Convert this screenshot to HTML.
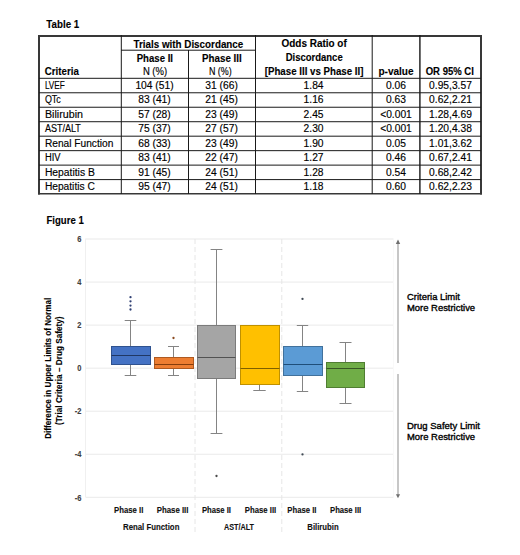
<!DOCTYPE html>
<html><head><meta charset="utf-8"><style>
html,body{margin:0;padding:0;background:#fff;}
body{width:520px;height:555px;overflow:hidden;}
svg{display:block;font-family:"Liberation Sans",sans-serif;}
</style></head><body>
<svg width="520" height="555" viewBox="0 0 520 555">
<rect width="520" height="555" fill="#fff"/>
<rect x="38.00" y="35.00" width="444.00" height="2.00" fill="#383838" />
<rect x="38.00" y="35.00" width="2.00" height="159.50" fill="#383838" />
<rect x="480.00" y="35.00" width="2.00" height="159.50" fill="#383838" />
<rect x="38.00" y="193.00" width="444.00" height="1.50" fill="#383838" />
<rect x="120.80" y="35.00" width="1.00" height="159.00" fill="#1a1a1a" />
<rect x="188.00" y="50.00" width="1.00" height="144.00" fill="#1a1a1a" />
<rect x="255.00" y="35.00" width="1.00" height="159.00" fill="#1a1a1a" />
<rect x="371.70" y="35.00" width="1.00" height="159.00" fill="#1a1a1a" />
<rect x="419.20" y="35.00" width="1.40" height="159.00" fill="#1a1a1a" />
<rect x="121.00" y="49.70" width="134.50" height="1.00" fill="#1a1a1a" />
<rect x="39.00" y="77.80" width="442.00" height="1.00" fill="#1a1a1a" />
<rect x="39.00" y="92.27" width="442.00" height="1.00" fill="#1a1a1a" />
<rect x="39.00" y="106.74" width="442.00" height="1.00" fill="#1a1a1a" />
<rect x="39.00" y="121.21" width="442.00" height="1.00" fill="#1a1a1a" />
<rect x="39.00" y="135.68" width="442.00" height="1.00" fill="#1a1a1a" />
<rect x="39.00" y="150.15" width="442.00" height="1.00" fill="#1a1a1a" />
<rect x="39.00" y="164.62" width="442.00" height="1.00" fill="#1a1a1a" />
<rect x="39.00" y="179.09" width="442.00" height="1.00" fill="#1a1a1a" />
<text x="46.30" y="28.30" font-size="10.5" font-weight="700" fill="#000" textLength="32.90" lengthAdjust="spacingAndGlyphs" stroke="#000" stroke-width="0.12" >Table 1</text>
<text x="133.50" y="47.50" font-size="10" font-weight="700" fill="#000" textLength="109.80" lengthAdjust="spacingAndGlyphs" stroke="#000" stroke-width="0.12" >Trials with Discordance</text>
<text x="136.70" y="61.50" font-size="10" font-weight="700" fill="#000" textLength="36.30" lengthAdjust="spacingAndGlyphs" stroke="#000" stroke-width="0.12" >Phase II</text>
<text x="202.10" y="61.50" font-size="10" font-weight="700" fill="#000" textLength="39.60" lengthAdjust="spacingAndGlyphs" stroke="#000" stroke-width="0.12" >Phase III</text>
<text x="142.90" y="74.80" font-size="10" font-weight="400" fill="#000" textLength="24.20" lengthAdjust="spacingAndGlyphs" stroke="#000" stroke-width="0.15" >N (%)</text>
<text x="208.90" y="74.80" font-size="10" font-weight="400" fill="#000" textLength="22.80" lengthAdjust="spacingAndGlyphs" stroke="#000" stroke-width="0.15" >N (%)</text>
<text x="281.50" y="47.40" font-size="10" font-weight="700" fill="#000" textLength="65.28" lengthAdjust="spacingAndGlyphs" stroke="#000" stroke-width="0.12" >Odds Ratio of</text>
<text x="285.70" y="61.20" font-size="10" font-weight="700" fill="#000" textLength="57.00" lengthAdjust="spacingAndGlyphs" stroke="#000" stroke-width="0.12" >Discordance</text>
<text x="264.70" y="74.60" font-size="10" font-weight="700" fill="#000" textLength="98.80" lengthAdjust="spacingAndGlyphs" stroke="#000" stroke-width="0.12" >[Phase III vs Phase II]</text>
<text x="378.40" y="74.80" font-size="10" font-weight="700" fill="#000" textLength="35.20" lengthAdjust="spacingAndGlyphs" stroke="#000" stroke-width="0.12" >p-value</text>
<text x="425.70" y="74.80" font-size="10" font-weight="700" fill="#000" textLength="48.20" lengthAdjust="spacingAndGlyphs" stroke="#000" stroke-width="0.12" >OR 95% CI</text>
<text x="44.80" y="74.80" font-size="10" font-weight="700" fill="#000" textLength="34.04" lengthAdjust="spacingAndGlyphs" stroke="#000" stroke-width="0.12" >Criteria</text>
<text x="44.90" y="88.90" font-size="10.0" font-weight="400" fill="#000" textLength="19.90" lengthAdjust="spacingAndGlyphs" stroke="#000" stroke-width="0.15" >LVEF</text>
<text x="135.41" y="88.90" font-size="10.0" font-weight="400" fill="#000" textLength="38.18" lengthAdjust="spacingAndGlyphs" stroke="#000" stroke-width="0.15" >104 (51)</text>
<text x="205.36" y="88.90" font-size="10.0" font-weight="400" fill="#000" textLength="32.48" lengthAdjust="spacingAndGlyphs" stroke="#000" stroke-width="0.15" >31 (66)</text>
<text x="303.63" y="88.90" font-size="10.0" font-weight="400" fill="#000" textLength="19.95" lengthAdjust="spacingAndGlyphs" stroke="#000" stroke-width="0.15" >1.84</text>
<text x="386.03" y="88.90" font-size="10.0" font-weight="400" fill="#000" textLength="19.95" lengthAdjust="spacingAndGlyphs" stroke="#000" stroke-width="0.15" >0.06</text>
<text x="429.13" y="88.90" font-size="10.0" font-weight="400" fill="#000" textLength="42.75" lengthAdjust="spacingAndGlyphs" stroke="#000" stroke-width="0.15" >0.95,3.57</text>
<text x="44.90" y="103.40" font-size="10.0" font-weight="400" fill="#000" textLength="15.90" lengthAdjust="spacingAndGlyphs" stroke="#000" stroke-width="0.15" >QTc</text>
<text x="138.26" y="103.40" font-size="10.0" font-weight="400" fill="#000" textLength="32.48" lengthAdjust="spacingAndGlyphs" stroke="#000" stroke-width="0.15" >83 (41)</text>
<text x="205.36" y="103.40" font-size="10.0" font-weight="400" fill="#000" textLength="32.48" lengthAdjust="spacingAndGlyphs" stroke="#000" stroke-width="0.15" >21 (45)</text>
<text x="303.63" y="103.40" font-size="10.0" font-weight="400" fill="#000" textLength="19.95" lengthAdjust="spacingAndGlyphs" stroke="#000" stroke-width="0.15" >1.16</text>
<text x="386.03" y="103.40" font-size="10.0" font-weight="400" fill="#000" textLength="19.95" lengthAdjust="spacingAndGlyphs" stroke="#000" stroke-width="0.15" >0.63</text>
<text x="429.13" y="103.40" font-size="10.0" font-weight="400" fill="#000" textLength="42.75" lengthAdjust="spacingAndGlyphs" stroke="#000" stroke-width="0.15" >0.62,2.21</text>
<text x="44.90" y="117.90" font-size="10.0" font-weight="400" fill="#000" textLength="38.10" lengthAdjust="spacingAndGlyphs" stroke="#000" stroke-width="0.15" >Bilirubin</text>
<text x="138.26" y="117.90" font-size="10.0" font-weight="400" fill="#000" textLength="32.48" lengthAdjust="spacingAndGlyphs" stroke="#000" stroke-width="0.15" >57 (28)</text>
<text x="205.36" y="117.90" font-size="10.0" font-weight="400" fill="#000" textLength="32.48" lengthAdjust="spacingAndGlyphs" stroke="#000" stroke-width="0.15" >23 (49)</text>
<text x="303.63" y="117.90" font-size="10.0" font-weight="400" fill="#000" textLength="19.95" lengthAdjust="spacingAndGlyphs" stroke="#000" stroke-width="0.15" >2.45</text>
<text x="380.18" y="117.90" font-size="10.0" font-weight="400" fill="#000" textLength="31.64" lengthAdjust="spacingAndGlyphs" stroke="#000" stroke-width="0.15" >&lt;0.001</text>
<text x="429.13" y="117.90" font-size="10.0" font-weight="400" fill="#000" textLength="42.75" lengthAdjust="spacingAndGlyphs" stroke="#000" stroke-width="0.15" >1.28,4.69</text>
<text x="44.90" y="132.40" font-size="10.0" font-weight="400" fill="#000" textLength="36.00" lengthAdjust="spacingAndGlyphs" stroke="#000" stroke-width="0.15" >AST/ALT</text>
<text x="138.26" y="132.40" font-size="10.0" font-weight="400" fill="#000" textLength="32.48" lengthAdjust="spacingAndGlyphs" stroke="#000" stroke-width="0.15" >75 (37)</text>
<text x="205.36" y="132.40" font-size="10.0" font-weight="400" fill="#000" textLength="32.48" lengthAdjust="spacingAndGlyphs" stroke="#000" stroke-width="0.15" >27 (57)</text>
<text x="303.63" y="132.40" font-size="10.0" font-weight="400" fill="#000" textLength="19.95" lengthAdjust="spacingAndGlyphs" stroke="#000" stroke-width="0.15" >2.30</text>
<text x="380.18" y="132.40" font-size="10.0" font-weight="400" fill="#000" textLength="31.64" lengthAdjust="spacingAndGlyphs" stroke="#000" stroke-width="0.15" >&lt;0.001</text>
<text x="429.13" y="132.40" font-size="10.0" font-weight="400" fill="#000" textLength="42.75" lengthAdjust="spacingAndGlyphs" stroke="#000" stroke-width="0.15" >1.20,4.38</text>
<text x="44.90" y="146.90" font-size="10.0" font-weight="400" fill="#000" textLength="68.40" lengthAdjust="spacingAndGlyphs" stroke="#000" stroke-width="0.15" >Renal Function</text>
<text x="138.26" y="146.90" font-size="10.0" font-weight="400" fill="#000" textLength="32.48" lengthAdjust="spacingAndGlyphs" stroke="#000" stroke-width="0.15" >68 (33)</text>
<text x="205.36" y="146.90" font-size="10.0" font-weight="400" fill="#000" textLength="32.48" lengthAdjust="spacingAndGlyphs" stroke="#000" stroke-width="0.15" >23 (49)</text>
<text x="303.63" y="146.90" font-size="10.0" font-weight="400" fill="#000" textLength="19.95" lengthAdjust="spacingAndGlyphs" stroke="#000" stroke-width="0.15" >1.90</text>
<text x="386.03" y="146.90" font-size="10.0" font-weight="400" fill="#000" textLength="19.95" lengthAdjust="spacingAndGlyphs" stroke="#000" stroke-width="0.15" >0.05</text>
<text x="429.13" y="146.90" font-size="10.0" font-weight="400" fill="#000" textLength="42.75" lengthAdjust="spacingAndGlyphs" stroke="#000" stroke-width="0.15" >1.01,3.62</text>
<text x="44.90" y="161.40" font-size="10.0" font-weight="400" fill="#000" textLength="15.60" lengthAdjust="spacingAndGlyphs" stroke="#000" stroke-width="0.15" >HIV</text>
<text x="138.26" y="161.40" font-size="10.0" font-weight="400" fill="#000" textLength="32.48" lengthAdjust="spacingAndGlyphs" stroke="#000" stroke-width="0.15" >83 (41)</text>
<text x="205.36" y="161.40" font-size="10.0" font-weight="400" fill="#000" textLength="32.48" lengthAdjust="spacingAndGlyphs" stroke="#000" stroke-width="0.15" >22 (47)</text>
<text x="303.63" y="161.40" font-size="10.0" font-weight="400" fill="#000" textLength="19.95" lengthAdjust="spacingAndGlyphs" stroke="#000" stroke-width="0.15" >1.27</text>
<text x="386.03" y="161.40" font-size="10.0" font-weight="400" fill="#000" textLength="19.95" lengthAdjust="spacingAndGlyphs" stroke="#000" stroke-width="0.15" >0.46</text>
<text x="429.13" y="161.40" font-size="10.0" font-weight="400" fill="#000" textLength="42.75" lengthAdjust="spacingAndGlyphs" stroke="#000" stroke-width="0.15" >0.67,2.41</text>
<text x="44.90" y="175.90" font-size="10.0" font-weight="400" fill="#000" textLength="49.90" lengthAdjust="spacingAndGlyphs" stroke="#000" stroke-width="0.15" >Hepatitis B</text>
<text x="138.26" y="175.90" font-size="10.0" font-weight="400" fill="#000" textLength="32.48" lengthAdjust="spacingAndGlyphs" stroke="#000" stroke-width="0.15" >91 (45)</text>
<text x="205.36" y="175.90" font-size="10.0" font-weight="400" fill="#000" textLength="32.48" lengthAdjust="spacingAndGlyphs" stroke="#000" stroke-width="0.15" >24 (51)</text>
<text x="303.63" y="175.90" font-size="10.0" font-weight="400" fill="#000" textLength="19.95" lengthAdjust="spacingAndGlyphs" stroke="#000" stroke-width="0.15" >1.28</text>
<text x="386.03" y="175.90" font-size="10.0" font-weight="400" fill="#000" textLength="19.95" lengthAdjust="spacingAndGlyphs" stroke="#000" stroke-width="0.15" >0.54</text>
<text x="429.13" y="175.90" font-size="10.0" font-weight="400" fill="#000" textLength="42.75" lengthAdjust="spacingAndGlyphs" stroke="#000" stroke-width="0.15" >0.68,2.42</text>
<text x="44.90" y="190.40" font-size="10.0" font-weight="400" fill="#000" textLength="49.90" lengthAdjust="spacingAndGlyphs" stroke="#000" stroke-width="0.15" >Hepatitis C</text>
<text x="138.26" y="190.40" font-size="10.0" font-weight="400" fill="#000" textLength="32.48" lengthAdjust="spacingAndGlyphs" stroke="#000" stroke-width="0.15" >95 (47)</text>
<text x="205.36" y="190.40" font-size="10.0" font-weight="400" fill="#000" textLength="32.48" lengthAdjust="spacingAndGlyphs" stroke="#000" stroke-width="0.15" >24 (51)</text>
<text x="303.63" y="190.40" font-size="10.0" font-weight="400" fill="#000" textLength="19.95" lengthAdjust="spacingAndGlyphs" stroke="#000" stroke-width="0.15" >1.18</text>
<text x="386.03" y="190.40" font-size="10.0" font-weight="400" fill="#000" textLength="19.95" lengthAdjust="spacingAndGlyphs" stroke="#000" stroke-width="0.15" >0.60</text>
<text x="429.13" y="190.40" font-size="10.0" font-weight="400" fill="#000" textLength="42.75" lengthAdjust="spacingAndGlyphs" stroke="#000" stroke-width="0.15" >0.62,2.23</text>
<text x="46.50" y="223.80" font-size="10.5" font-weight="700" fill="#000" textLength="37.25" lengthAdjust="spacingAndGlyphs" stroke="#000" stroke-width="0.12" >Figure 1</text>
<rect x="86.00" y="238.50" width="307.50" height="1.00" fill="#eaeaea" />
<rect x="86.00" y="281.55" width="307.50" height="1.00" fill="#eaeaea" />
<rect x="86.00" y="324.60" width="307.50" height="1.00" fill="#eaeaea" />
<rect x="86.00" y="367.65" width="307.50" height="1.00" fill="#eaeaea" />
<rect x="86.00" y="410.70" width="307.50" height="1.00" fill="#eaeaea" />
<rect x="86.00" y="453.75" width="307.50" height="1.00" fill="#eaeaea" />
<rect x="86.00" y="496.80" width="307.50" height="1.00" fill="#eaeaea" />
<rect x="85.00" y="238.50" width="1.00" height="259.00" fill="#f0f0f0" />
<rect x="393.00" y="238.50" width="1.00" height="259.00" fill="#f9f9f9" />
<line x1="195.00" y1="239.00" x2="195.00" y2="535.00" stroke="#e6e6e6" stroke-width="1" stroke-dasharray="5 3"/>
<line x1="281.80" y1="239.00" x2="281.80" y2="535.00" stroke="#e6e6e6" stroke-width="1" stroke-dasharray="5 3"/>
<text x="77.34" y="242.20" font-size="8.8" font-weight="700" fill="#404040" textLength="4.16" lengthAdjust="spacingAndGlyphs" stroke="#404040" stroke-width="0.12" >6</text>
<text x="77.34" y="285.25" font-size="8.8" font-weight="700" fill="#404040" textLength="4.16" lengthAdjust="spacingAndGlyphs" stroke="#404040" stroke-width="0.12" >4</text>
<text x="77.34" y="328.30" font-size="8.8" font-weight="700" fill="#404040" textLength="4.16" lengthAdjust="spacingAndGlyphs" stroke="#404040" stroke-width="0.12" >2</text>
<text x="77.34" y="371.35" font-size="8.8" font-weight="700" fill="#404040" textLength="4.16" lengthAdjust="spacingAndGlyphs" stroke="#404040" stroke-width="0.12" >0</text>
<text x="74.85" y="414.40" font-size="8.8" font-weight="700" fill="#404040" textLength="6.65" lengthAdjust="spacingAndGlyphs" stroke="#404040" stroke-width="0.12" >-2</text>
<text x="74.85" y="457.45" font-size="8.8" font-weight="700" fill="#404040" textLength="6.65" lengthAdjust="spacingAndGlyphs" stroke="#404040" stroke-width="0.12" >-4</text>
<text x="74.85" y="500.50" font-size="8.8" font-weight="700" fill="#404040" textLength="6.65" lengthAdjust="spacingAndGlyphs" stroke="#404040" stroke-width="0.12" >-6</text>
<line x1="130.50" y1="320.50" x2="130.50" y2="346.50" stroke="#848484" stroke-width="1" />
<line x1="124.70" y1="320.50" x2="136.30" y2="320.50" stroke="#848484" stroke-width="1" />
<line x1="130.50" y1="364.50" x2="130.50" y2="375.50" stroke="#848484" stroke-width="1" />
<line x1="124.70" y1="375.50" x2="136.30" y2="375.50" stroke="#848484" stroke-width="1" />
<rect x="111.50" y="346.50" width="39.00" height="18.00" fill="#4472c4" stroke="#2f528f" stroke-width="1"/>
<line x1="111.50" y1="355.50" x2="150.50" y2="355.50" stroke="#203864" stroke-width="1" />
<circle cx="130.50" cy="297.20" r="1.15" fill="#2f3f73"/>
<circle cx="130.50" cy="301.30" r="1.15" fill="#2f3f73"/>
<circle cx="130.50" cy="305.60" r="1.15" fill="#2f3f73"/>
<circle cx="130.50" cy="309.50" r="1.15" fill="#2f3f73"/>
<line x1="173.50" y1="346.50" x2="173.50" y2="357.50" stroke="#848484" stroke-width="1" />
<line x1="168.00" y1="346.50" x2="179.00" y2="346.50" stroke="#848484" stroke-width="1" />
<line x1="173.50" y1="368.50" x2="173.50" y2="375.50" stroke="#848484" stroke-width="1" />
<line x1="168.00" y1="375.50" x2="179.00" y2="375.50" stroke="#848484" stroke-width="1" />
<rect x="154.50" y="357.50" width="39.00" height="11.00" fill="#ed7d31" stroke="#ae5a21" stroke-width="1"/>
<line x1="154.50" y1="364.50" x2="193.50" y2="364.50" stroke="#843c0c" stroke-width="1" />
<circle cx="173.50" cy="338.00" r="1.15" fill="#8a4a20"/>
<line x1="216.50" y1="249.50" x2="216.50" y2="325.50" stroke="#848484" stroke-width="1" />
<line x1="210.60" y1="249.50" x2="222.40" y2="249.50" stroke="#848484" stroke-width="1" />
<line x1="216.50" y1="378.50" x2="216.50" y2="433.50" stroke="#848484" stroke-width="1" />
<line x1="210.60" y1="433.50" x2="222.40" y2="433.50" stroke="#848484" stroke-width="1" />
<rect x="197.50" y="325.50" width="38.00" height="53.00" fill="#a5a5a5" stroke="#7b7b7b" stroke-width="1"/>
<line x1="197.50" y1="357.50" x2="235.50" y2="357.50" stroke="#525252" stroke-width="1" />
<circle cx="216.50" cy="476.00" r="1.15" fill="#4a4a4a"/>
<line x1="259.50" y1="384.50" x2="259.50" y2="390.50" stroke="#848484" stroke-width="1" />
<line x1="253.30" y1="390.50" x2="265.70" y2="390.50" stroke="#848484" stroke-width="1" />
<rect x="240.50" y="325.50" width="39.00" height="59.00" fill="#ffc000" stroke="#bf9000" stroke-width="1"/>
<line x1="240.50" y1="368.50" x2="279.50" y2="368.50" stroke="#7f6000" stroke-width="1" />
<line x1="302.50" y1="325.50" x2="302.50" y2="346.50" stroke="#848484" stroke-width="1" />
<line x1="296.80" y1="325.50" x2="308.20" y2="325.50" stroke="#848484" stroke-width="1" />
<line x1="302.50" y1="375.50" x2="302.50" y2="391.50" stroke="#848484" stroke-width="1" />
<line x1="296.80" y1="391.50" x2="308.20" y2="391.50" stroke="#848484" stroke-width="1" />
<rect x="283.50" y="346.50" width="39.00" height="29.00" fill="#5b9bd5" stroke="#41719c" stroke-width="1"/>
<line x1="283.50" y1="364.50" x2="322.50" y2="364.50" stroke="#1f4e79" stroke-width="1" />
<circle cx="302.50" cy="298.90" r="1.15" fill="#404a55"/>
<circle cx="302.50" cy="454.40" r="1.15" fill="#404a55"/>
<line x1="345.50" y1="342.50" x2="345.50" y2="362.50" stroke="#848484" stroke-width="1" />
<line x1="339.50" y1="342.50" x2="351.50" y2="342.50" stroke="#848484" stroke-width="1" />
<line x1="345.50" y1="387.50" x2="345.50" y2="403.50" stroke="#848484" stroke-width="1" />
<line x1="339.50" y1="403.50" x2="351.50" y2="403.50" stroke="#848484" stroke-width="1" />
<rect x="326.50" y="362.50" width="38.00" height="25.00" fill="#70ad47" stroke="#507e32" stroke-width="1"/>
<line x1="326.50" y1="368.50" x2="364.50" y2="368.50" stroke="#375623" stroke-width="1" />
<rect x="397.50" y="243.00" width="1.00" height="120.00" fill="#8f8f8f" />
<path d="M398 239.5 L400.2 244 L395.8 244 Z" fill="#6f6f6f"/>
<rect x="397.50" y="374.00" width="1.00" height="121.00" fill="#8f8f8f" />
<path d="M398 498.3 L400.1 494.2 L395.9 494.2 Z" fill="#6f6f6f"/>
<text x="407.00" y="299.80" font-size="9.43" font-weight="400" fill="#000" textLength="52.90" lengthAdjust="spacingAndGlyphs" stroke="#000" stroke-width="0.35" >Criteria Limit</text>
<text x="407.00" y="310.80" font-size="9.43" font-weight="400" fill="#000" textLength="68.10" lengthAdjust="spacingAndGlyphs" stroke="#000" stroke-width="0.35" >More Restrictive</text>
<text x="407.00" y="429.00" font-size="9.43" font-weight="400" fill="#000" textLength="73.00" lengthAdjust="spacingAndGlyphs" stroke="#000" stroke-width="0.35" >Drug Safety Limit</text>
<text x="407.00" y="440.30" font-size="9.43" font-weight="400" fill="#000" textLength="68.10" lengthAdjust="spacingAndGlyphs" stroke="#000" stroke-width="0.35" >More Restrictive</text>
<text x="114.00" y="512.70" font-size="9" font-weight="700" fill="#111" textLength="29.30" lengthAdjust="spacingAndGlyphs" stroke="#111" stroke-width="0.12" >Phase II</text>
<text x="156.70" y="512.70" font-size="9" font-weight="700" fill="#111" textLength="31.80" lengthAdjust="spacingAndGlyphs" stroke="#111" stroke-width="0.12" >Phase III</text>
<text x="201.90" y="512.70" font-size="9" font-weight="700" fill="#111" textLength="29.10" lengthAdjust="spacingAndGlyphs" stroke="#111" stroke-width="0.12" >Phase II</text>
<text x="244.80" y="512.70" font-size="9" font-weight="700" fill="#111" textLength="31.40" lengthAdjust="spacingAndGlyphs" stroke="#111" stroke-width="0.12" >Phase III</text>
<text x="287.30" y="512.70" font-size="9" font-weight="700" fill="#111" textLength="29.20" lengthAdjust="spacingAndGlyphs" stroke="#111" stroke-width="0.12" >Phase II</text>
<text x="330.00" y="512.70" font-size="9" font-weight="700" fill="#111" textLength="31.20" lengthAdjust="spacingAndGlyphs" stroke="#111" stroke-width="0.12" >Phase III</text>
<text x="123.00" y="530.00" font-size="9" font-weight="700" fill="#111" textLength="56.40" lengthAdjust="spacingAndGlyphs" stroke="#111" stroke-width="0.12" >Renal Function</text>
<text x="224.00" y="530.00" font-size="9" font-weight="700" fill="#111" textLength="30.00" lengthAdjust="spacingAndGlyphs" stroke="#111" stroke-width="0.12" >AST/ALT</text>
<text x="307.30" y="530.00" font-size="9" font-weight="700" fill="#111" textLength="31.40" lengthAdjust="spacingAndGlyphs" stroke="#111" stroke-width="0.12" >Bilirubin</text>
<text x="-438.80" y="51.20" font-size="9.4" font-weight="700" fill="#000" textLength="141.00" lengthAdjust="spacingAndGlyphs" transform="rotate(-90)" stroke="#000" stroke-width="0.12" >Difference in Upper Limits of Normal</text>
<text x="-425.00" y="62.00" font-size="9" font-weight="700" fill="#000" textLength="108.60" lengthAdjust="spacingAndGlyphs" transform="rotate(-90)" stroke="#000" stroke-width="0.12" >(Trial Criteria – Drug Safety)</text>
</svg>
</body></html>
